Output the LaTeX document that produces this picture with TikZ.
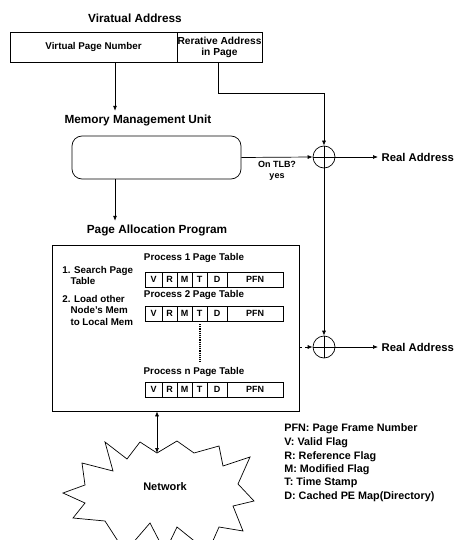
\documentclass[tikz,border=0pt]{standalone}
\usepackage{fontspec}
\setmainfont{Liberation Sans}
\usetikzlibrary{arrows.meta}

\tikzset{
  arr/.style={-{Latex[length=5pt,width=4pt]}},
  big/.style={font=\bfseries\fontsize{11.8}{13}\selectfont},
  mid/.style={font=\bfseries\fontsize{9.8}{11.5}\selectfont},
  sml/.style={font=\bfseries\fontsize{9}{10.5}\selectfont, inner sep=1pt},
  leg/.style={font=\bfseries\fontsize{10.8}{12}\selectfont, inner sep=1pt},
  adder/.style={draw, circle, minimum size=22pt, inner sep=0pt},
}

\begin{document}
\begin{tikzpicture}[x=1pt, y=-1pt, line width=0.7pt]
    \useasboundingbox (0,0) rectangle (456,540);
    \clip (0,0) rectangle (456,540);

    % virtual address
    \node[big] (vatitle) at (135,18) {Viratual Address};
    \node[draw, mid, minimum width=167pt, minimum height=30pt, inner sep=0pt] (vpn) at (93.5,47) {Virtual Page Number};
    \node[draw, sml, font=\bfseries\fontsize{10.2}{11}\selectfont, minimum width=85pt, minimum height=30pt, align=center, inner sep=0pt] (rap) at (219.5,47) {Rerative Address\\in Page};

    % memory management unit
    \node[big] (mmutitle) at (138,120) {Memory Management Unit};
    \node[draw, rounded corners=10pt, minimum width=169pt, minimum height=43pt] (mmu) at (156.5,157.5) {};

    % adders and real address
    \node[adder] (add1) at (324,157) {};
    \node[adder] (add2) at (324,347) {};
    \draw (add1.north) -- (add1.south) (add1.west) -- (add1.east);
    \draw (add2.north) -- (add2.south) (add2.west) -- (add2.east);
    \node[big, font=\bfseries\fontsize{11.3}{13}\selectfont, anchor=west] (ra1) at (378,157) {Real Address};
    \node[big, font=\bfseries\fontsize{11.3}{13}\selectfont, anchor=west] (ra2) at (378,347) {Real Address};

    % page allocation program
    \node[big] (paltitle) at (157,230) {Page Allocation Program};
    \node[draw, minimum width=247pt, minimum height=166pt] (pal) at (175.5,328) {};
    \node[mid, anchor=north west, align=left, inner sep=0pt] (step1) at (62,266) {1. Search Page\\\ \ \ Table};
    \node[mid, anchor=north west, align=left, inner sep=0pt] (step2) at (62,295) {2. Load other\\\ \ \ Node's Mem\\\ \ \ to Local Mem};

    % page tables
    \foreach \ty/\ly/\pname in {272/258/1, 306/295/2, 382/372/n} {
      \node[mid] at (194,\ly) {Process \pname\ Page Table};
      \foreach \xa/\xb/\fld in {145/162/V, 162/177/R, 177/192/M, 192/207/T, 207/227/D, 227/283/PFN} {
        \draw (\xa,\ty) rectangle (\xb,\ty+15);
        \node[sml] at ({(\xa+\xb)/2},\ty+7.5) {\fld};
      }
    }
    \draw[densely dotted, line width=1.2pt] (200,324) -- (200,362);

    % network
    \draw (63,493) -- (85,485) -- (82,463) -- (113,471) -- (105,442) -- (127,459)
      -- (140,442) -- (157,453) -- (177,441) -- (194,453) -- (219,446) -- (223,466)
      -- (250,457) -- (238,484) -- (254,501) -- (233,506) -- (243,531) -- (219,527)
      -- (208,552) -- (177,527) -- (165,552) -- (150,523) -- (125,552) -- (105,521)
      -- (73,518) -- (85,503) -- cycle;
    \coordinate (netin) at (157,453);
    \node[big, font=\bfseries\fontsize{11}{13}\selectfont] (net) at (165,487) {Network};

    % connectors
    \draw[arr] (vpn.south -| 115,0) -- (mmutitle.north -| 115,0);
    \draw[arr] (rap.south -| 218,0) -- (218,93) -| (add1.north);
    \draw[arr] (mmu.south -| 115,0) -- (paltitle.north -| 115,0);
    \draw[arr] (mmu.east) -- node[sml, below, align=center, yshift=-3pt] {On TLB?\\yes} (add1.west);
    \draw[arr] (add1.east) -- (ra1.west);
    \draw[arr] (add1.south) -- (add2.north);
    \draw[arr, dashed] (pal.east |- add2) -- (add2.west);
    \draw[arr] (add2.east) -- (ra2.west);
    \draw[{Latex[length=5pt,width=4pt]}-{Latex[length=5pt,width=4pt]}] (pal.south -| netin) -- (netin);

    % legend
    \foreach \ly/\txt in {429/{PFN: Page Frame Number}, 443/{V: Valid Flag}, 457/{R: Reference Flag},
      470/{M: Modified Flag}, 483/{T: Time Stamp}, 497/{D: Cached PE Map(Directory)}}
      \node[leg, anchor=west] at (283,\ly) {\txt};
\end{tikzpicture}
\end{document}
